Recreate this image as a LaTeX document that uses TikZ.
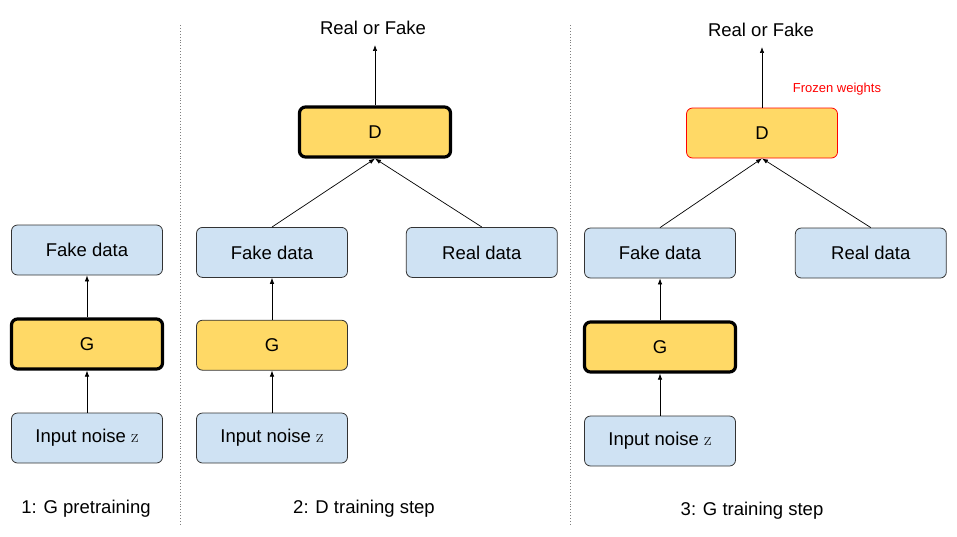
\documentclass[tikz,border=0pt]{standalone}
\usepackage{fontspec}
\setmainfont{Liberation Sans}
\newfontfamily\zfont{Latin Modern Roman}
\usepackage{tikz}
\usetikzlibrary{positioning}
\usetikzlibrary{arrows.meta}
\usepackage{color}

\definecolor{databg}{HTML}{CFE2F3}
\definecolor{netbg}{HTML}{FFD966}
\definecolor{edgegray}{HTML}{333333}

\tikzset{
  txt/.style={font=\fontsize{18.5}{22}\selectfont},
  databox/.style={txt, draw=edgegray, fill=databg, rounded corners=6pt,
    minimum width=151pt, minimum height=50pt, line width=0.8pt},
  netbox/.style={databox, fill=netbg},
  active/.style={draw=black, line width=3.2pt},
  frozenbox/.style={draw=red, line width=0.8pt},
  flow/.style={-{Latex[length=6pt,width=4.5pt]}, line width=0.7pt},
  divider/.style={gray, dotted, line width=0.9pt}
}

\begin{document}
\begin{tikzpicture}[x=1pt, y=-1pt, node distance=42pt]
                    \useasboundingbox (0,0) rectangle (957,536);
                    % 1: G pretraining
                    \node[databox] (noise1) at (87,438) {Input noise {\zfont z}};
                    \node[netbox, active, above=of noise1] (g1) {G};
                    \node[databox, above=of g1] (fake1) {Fake data};
                    \node[txt] (cap1) at (86,509) {1: G pretraining};
                    \draw[flow] (noise1) -- (g1);
                    \draw[flow] (g1) -- (fake1);
                    % 2: D training step
                    \node[databox] (noise2) at (272,438) {Input noise {\zfont z}};
                    \node[netbox, above=of noise2] (g2) {G};
                    \node[databox, above=of g2] (fake2) {Fake data};
                    \node[databox, right=58pt of fake2] (real2) {Real data};
                    \node[netbox, active] (d2) at (375,132) {D};
                    \node[txt, inner sep=0pt] (out2) at (373,28) {Real or Fake};
                    \node[txt] (cap2) at (364,509) {2: D training step};
                    \draw[flow] (noise2) -- (g2);
                    \draw[flow] (g2) -- (fake2);
                    \draw[flow] (fake2.north) -- (d2.south);
                    \draw[flow] (real2.north) -- (d2.south);
                    \draw[flow, shorten >=10pt] (d2.north) -- (d2.north |- out2.south);
                    % 3: G training step
                    \node[databox] (noise3) at (660,441) {Input noise {\zfont z}};
                    \node[netbox, active, above=of noise3] (g3) {G};
                    \node[databox, above=of g3] (fake3) {Fake data};
                    \node[databox, right=59pt of fake3] (real3) {Real data};
                    \node[netbox, frozenbox] (d3) at (762,133) {D};
                    \node[txt, inner sep=0pt] (out3) at (761,30) {Real or Fake};
                    \node[text=red, font=\fontsize{13}{15}\selectfont] (frozen3) at (837,89) {Frozen weights};
                    \node[txt] (cap3) at (752,511) {3: G training step};
                    \draw[flow] (noise3) -- (g3);
                    \draw[flow] (g3) -- (fake3);
                    \draw[flow] (fake3.north) -- (d3.south);
                    \draw[flow] (real3.north) -- (d3.south);
                    \draw[flow, shorten >=10pt] (d3.north) -- (d3.north |- out3.south);
                    % dividers
                    \coordinate (top1) at (180,25);
                    \coordinate (bot1) at (180,525);
                    \coordinate (top2) at (570,25);
                    \coordinate (bot2) at (570,525);
                    \draw[divider] (top1) -- (bot1);
                    \draw[divider] (top2) -- (bot2);
                \end{tikzpicture}
\end{document}
